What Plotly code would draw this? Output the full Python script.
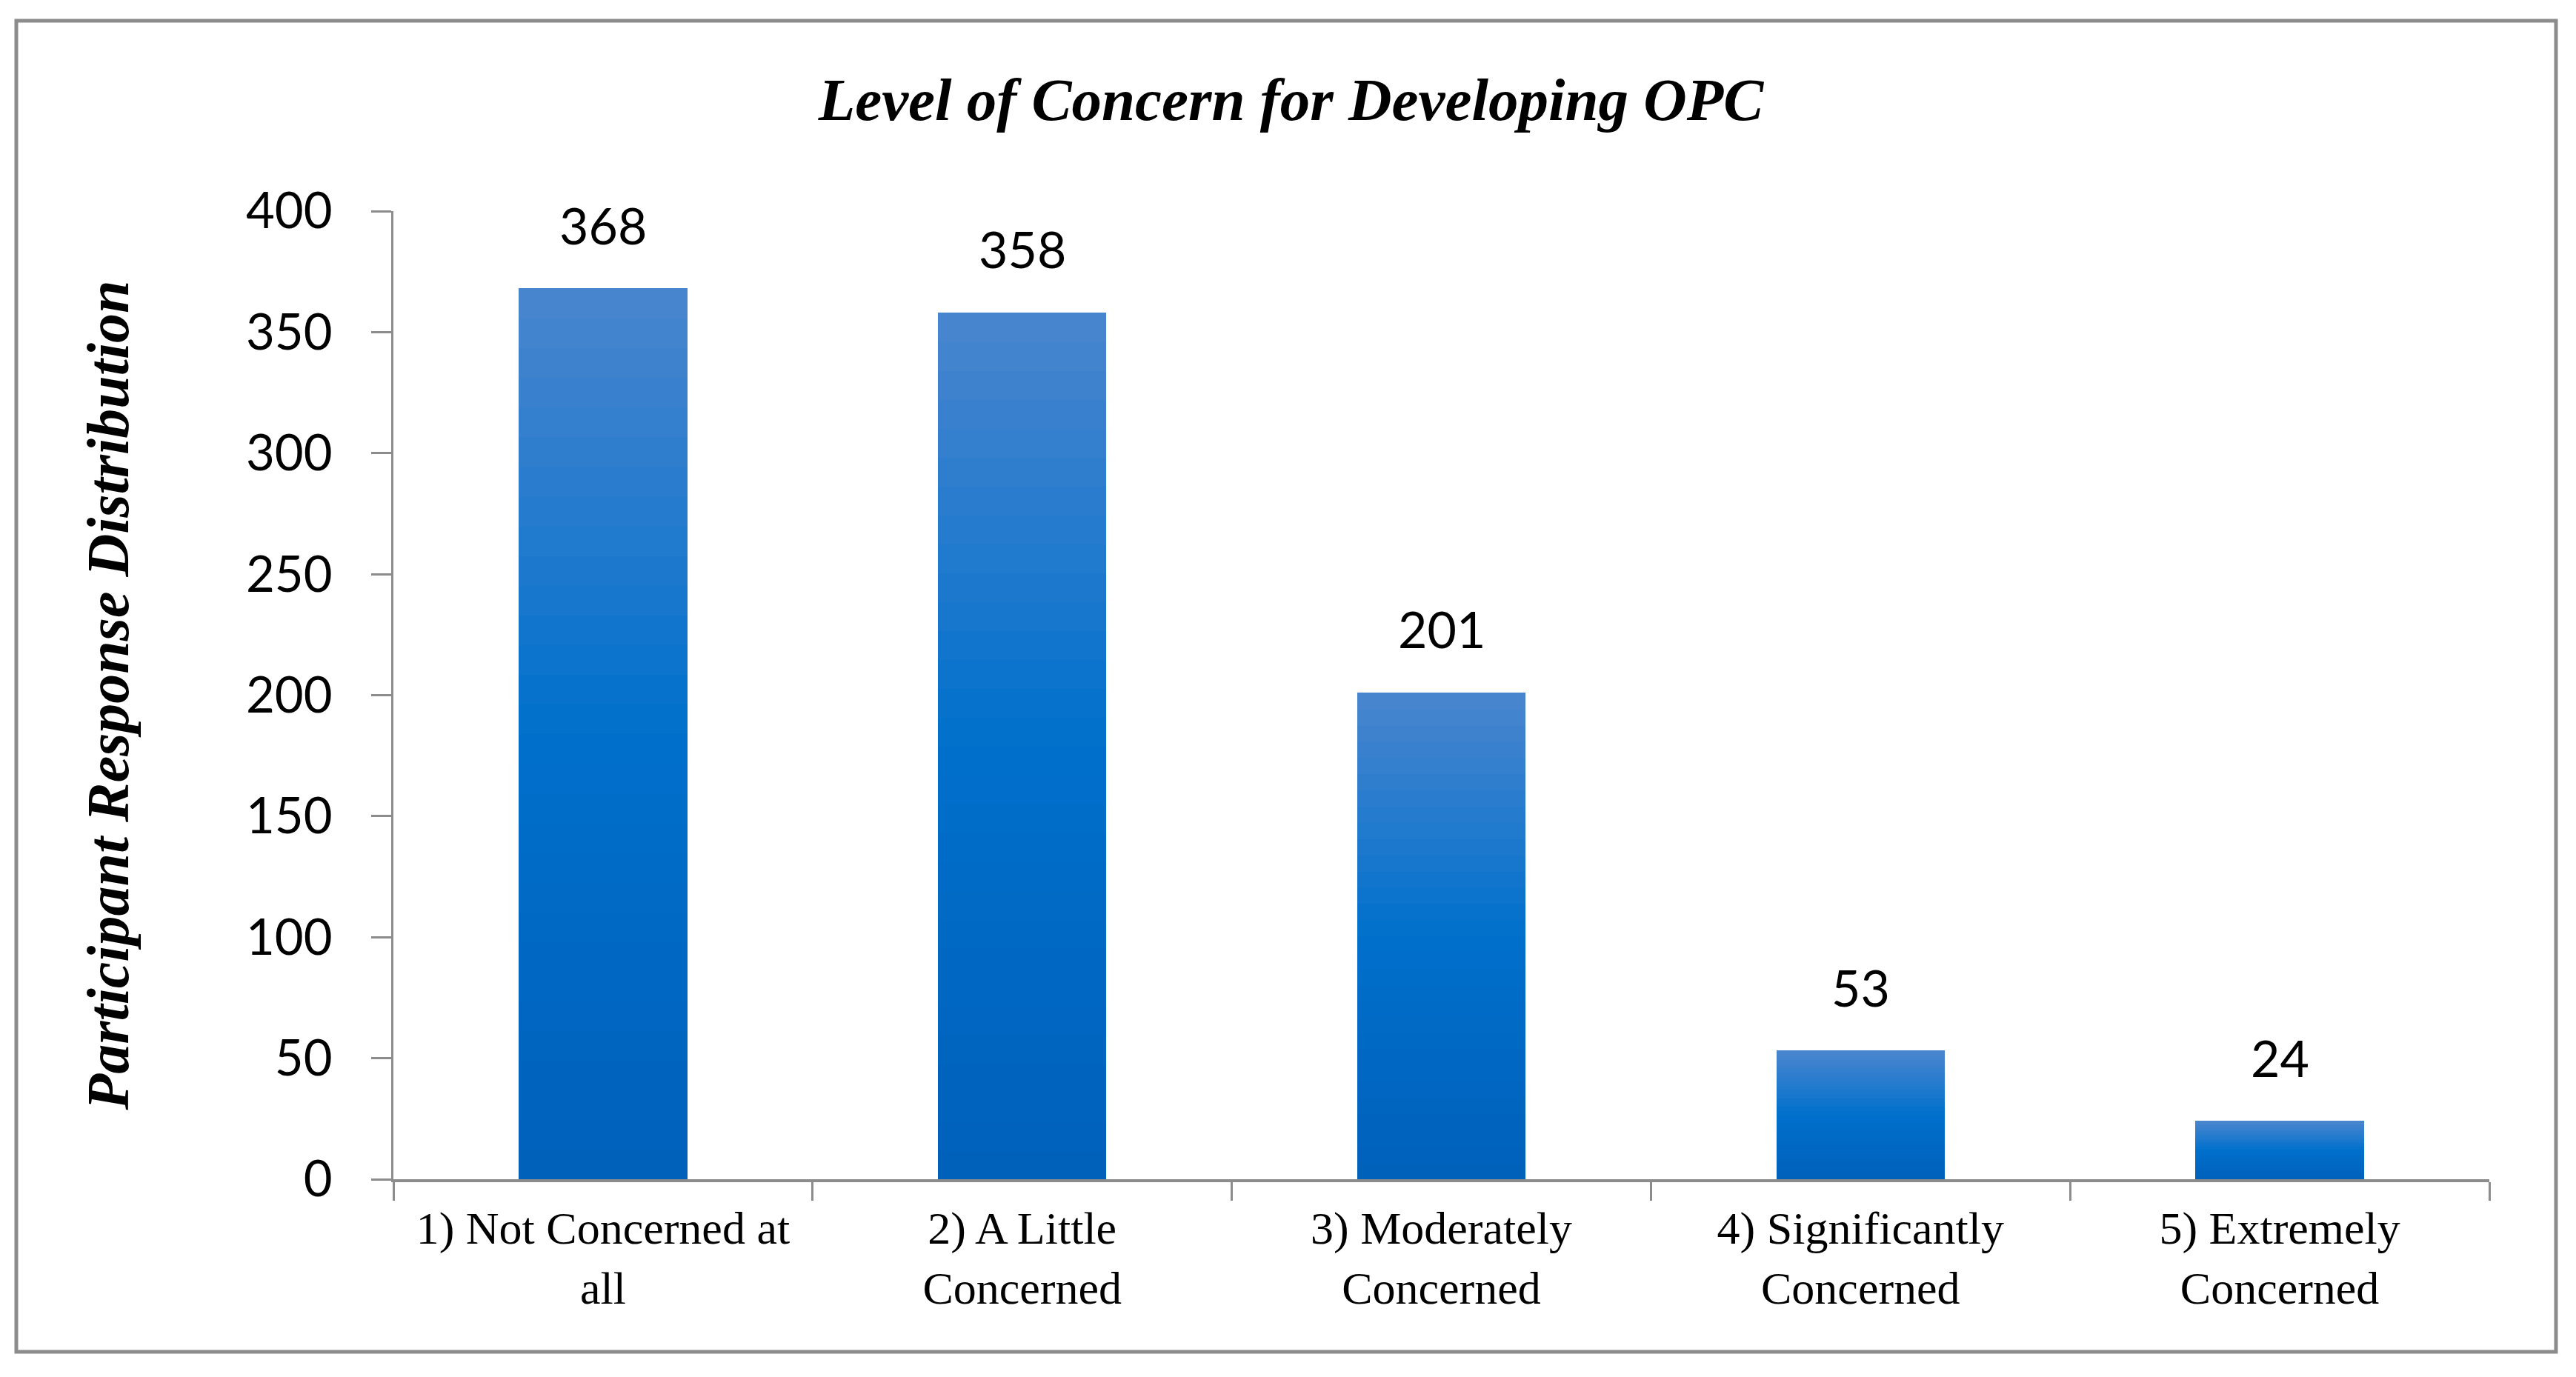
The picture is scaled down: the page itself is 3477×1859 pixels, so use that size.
import plotly.graph_objects as go

# ---- data ----
categories = [
    "1) Not Concerned at<br>all",
    "2) A Little<br>Concerned",
    "3) Moderately<br>Concerned",
    "4) Significantly<br>Concerned",
    "5) Extremely<br>Concerned",
]
responses = [368, 358, 201, 53, 24]
y_ticks = [0, 50, 100, 150, 200, 250, 300, 350, 400]

title_text = "Level of Concern for Developing OPC"
y_title_text = "Participant Response Distribution"

# ---- style ----
OFF = 8  # page body margin
W, H = 3477 - OFF, 1859 - OFF
L, R, T, B = 531 - OFF, 117, 285 - OFF, 267
AXIS = "#8c8c8c"
SANS = "Lato, Noto Sans, sans-serif"
SERIF = "Liberation Serif, Times New Roman, serif"

# vertical gradient of each bar: bottom -> middle -> top
stops = [(0.0, (0, 96, 186)), (0.5, (0, 112, 204)), (1.0, (74, 134, 207))]


def grad_color(t):
    for (t0, c0), (t1, c1) in zip(stops[:-1], stops[1:]):
        if t <= t1:
            f = (t - t0) / (t1 - t0)
            return "rgb(%d,%d,%d)" % tuple(round(a + (b - a) * f) for a, b in zip(c0, c1))
    return "rgb(%d,%d,%d)" % stops[-1][1]


N_SEG = 30
fig = go.Figure()
for k in range(N_SEG):
    col = grad_color((k + 0.5) / N_SEG)
    fig.add_trace(go.Bar(
        x=categories,
        y=[v / N_SEG for v in responses],
        marker=dict(color=col, line=dict(color=col, width=1)),
        hoverinfo="skip" if k < N_SEG - 1 else None,
        customdata=responses,
        hovertemplate="%{x}: %{customdata}<extra></extra>",
        showlegend=False,
    ))

# data labels
for c, v in zip(categories, responses):
    fig.add_annotation(
        x=c, y=v, xref="x", yref="y", text=str(v), showarrow=False,
        yanchor="bottom", yshift=44,
        font=dict(family=SANS, size=68, color="black"),
    )

# outer border (page pixel positions converted to paper coords)
pw, ph = W - L - R, H - T - B
def px_x(p):
    return (p - OFF - L) / pw
def px_y(p):
    return (H - B - (p - OFF)) / ph

fig.add_shape(type="rect", xref="paper", yref="paper",
              x0=px_x(22), x1=px_x(3450), y0=px_y(1825), y1=px_y(28),
              line=dict(color=AXIS, width=5), fillcolor="rgba(0,0,0,0)", layer="below")

fig.update_layout(
    width=W, height=H,
    margin=dict(l=L, r=R, t=T, b=B, autoexpand=False),
    paper_bgcolor="white", plot_bgcolor="white",
    barmode="stack", bargap=0.6,
    title=dict(text="<b><i>%s</i></b>" % title_text, x=0.5, xref="container",
               y=1 - (134 - OFF) / H, yref="container", xanchor="center", yanchor="middle",
               font=dict(family=SERIF, size=81, color="black")),
)

fig.update_yaxes(
    range=[0, 400], tickvals=y_ticks, showgrid=False, zeroline=False,
    showline=True, linecolor=AXIS, linewidth=3,
    ticks="outside", ticklen=27, tickwidth=3, tickcolor=AXIS,
    tickfont=dict(family=SANS, size=67, color="black"),
    ticklabelstandoff=39,
    title=dict(text="<b><i>%s</i></b>" % y_title_text,
               font=dict(family=SERIF, size=80, color="black"), standoff=133),
    automargin=False,
)
fig.update_xaxes(
    type="category", showgrid=False, zeroline=False,
    showline=True, linecolor=AXIS, linewidth=4,
    ticks="outside", tickson="boundaries", ticklen=25, tickwidth=3, tickcolor=AXIS,
    tickfont=dict(family=SERIF, size=62, color="black"),
    ticklabelstandoff=9,
    automargin=False,
)

fig.write_html("out.html")
